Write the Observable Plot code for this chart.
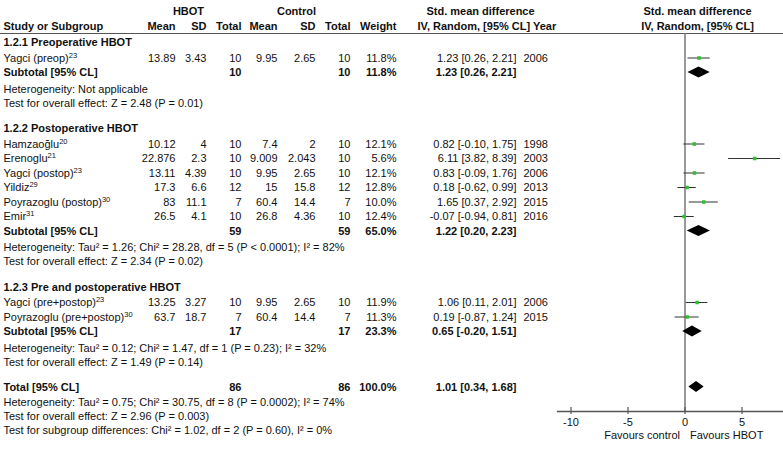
<!DOCTYPE html>
<html><head><meta charset="utf-8">
<script src="https://cdn.jsdelivr.net/npm/d3@7"></script>
<script src="https://cdn.jsdelivr.net/npm/@observablehq/plot@0.6"></script>
<style>
html,body{margin:0;padding:0;background:#fff;}
#chart{width:783px;height:459px;overflow:hidden;}
</style></head><body><div id="chart"></div>
<script>
// ---------- data ----------
const groupLabels = ["1.2.1 Preoperative HBOT", "1.2.2 Postoperative HBOT", "1.2.3 Pre and postoperative HBOT"];
const studyNames = ["Yagci (preop)^23", "Hamzaoğlu^20", "Erenoglu^21", "Yagci (postop)^23", "Yildiz^29", "Poyrazoglu (postop)^30", "Emir^31", "Yagci (pre+postop)^23", "Poyrazoglu (pre+postop)^30"];
const studyGroup = [0, 1, 1, 1, 1, 1, 1, 2, 2];
const hbotMean = [13.89, 10.12, 22.876, 13.11, 17.3, 83, 26.5, 13.25, 63.7];
const hbotSD = [3.43, 4, 2.3, 4.39, 6.6, 11.1, 4.1, 3.27, 18.7];
const hbotN = [10, 10, 10, 10, 12, 7, 10, 10, 7];
const ctrlMean = [9.95, 7.4, 9.009, 9.95, 15, 60.4, 26.8, 9.95, 60.4];
const ctrlSD = [2.65, 2, 2.043, 2.65, 15.8, 14.4, 4.36, 2.65, 14.4];
const ctrlN = [10, 10, 10, 10, 12, 7, 10, 10, 7];
const weight = [11.8, 12.1, 5.6, 12.1, 12.8, 10.0, 12.4, 11.9, 11.3];
const smd = [1.23, 0.82, 6.11, 0.83, 0.18, 1.65, -0.07, 1.06, 0.19];
const ciLo = [0.26, -0.10, 3.82, -0.09, -0.62, 0.37, -0.94, 0.11, -0.87];
const ciHi = [2.21, 1.75, 8.39, 1.76, 0.99, 2.92, 0.81, 2.01, 1.24];
const year = [2006, 1998, 2003, 2006, 2013, 2015, 2016, 2006, 2015];

const subHbotN = [10, 59, 17];
const subCtrlN = [10, 59, 17];
const subWeight = [11.8, 65.0, 23.3];
const subSmd = [1.23, 1.22, 0.65];
const subLo = [0.26, 0.20, -0.20];
const subHi = [2.21, 2.23, 1.51];
const subHet = [
  "Heterogeneity: Not applicable",
  "Heterogeneity: Tau² = 1.26; Chi² = 28.28, df = 5 (P < 0.0001); I² = 82%",
  "Heterogeneity: Tau² = 0.12; Chi² = 1.47, df = 1 (P = 0.23); I² = 32%"
];
const subTest = [
  "Test for overall effect: Z = 2.48 (P = 0.01)",
  "Test for overall effect: Z = 2.34 (P = 0.02)",
  "Test for overall effect: Z = 1.49 (P = 0.14)"
];
const totalHbotN = 86, totalCtrlN = 86, totalWeight = 100.0;
const totalSmd = 1.01, totalLo = 0.34, totalHi = 1.68;
const totalNotes = [
  "Heterogeneity: Tau² = 0.75; Chi² = 30.75, df = 8 (P = 0.0002); I² = 74%",
  "Test for overall effect: Z = 2.96 (P = 0.003)",
  "Test for subgroup differences: Chi² = 1.02, df = 2 (P = 0.60), I² = 0%"
];
const axisTicks = [-10, -5, 0, 5];
const favourLabels = ["Favours control", "Favours HBOT"];

// ---------- layout ----------
const FONT = "'Liberation Sans', Arial, Helvetica, sans-serif";
const COL = {name:[3,"start"], hMean:[175,"end"], hSD:[206,"end"], hN:[241,"end"], cMean:[277,"end"], cSD:[315,"end"], cN:[350,"end"], w:[396,"end"], eff:[516,"end"], year:[523,"start"]};
const cells = [];
function cell(y, col, text, bold) { cells.push({y, dx: COL[col][0], anchor: COL[col][1], text: String(text), bold: !!bold}); }
function cellAt(y, dx, anchor, text, bold) { cells.push({y, dx, anchor, text, bold: !!bold}); }
const f2 = v => v.toFixed(2);
const effText = (e, l, h) => `${f2(e)} [${f2(l)}, ${f2(h)}]`;

const Y_TOP1 = 11, Y_TOP2 = 26, Y_RULE = 33, Y_AXIS = 411;
cellAt(Y_TOP1, 188, "middle", "HBOT", true);
cellAt(Y_TOP1, 296, "middle", "Control", true);
cellAt(Y_TOP1, 480, "middle", "Std. mean difference", true);
cellAt(Y_TOP1, 697, "middle", "Std. mean difference", true);
cell(Y_TOP2, "name", "Study or Subgroup", true);
cell(Y_TOP2, "hMean", "Mean", true); cell(Y_TOP2, "hSD", "SD", true); cell(Y_TOP2, "hN", "Total", true);
cell(Y_TOP2, "cMean", "Mean", true); cell(Y_TOP2, "cSD", "SD", true); cell(Y_TOP2, "cN", "Total", true);
cell(Y_TOP2, "w", "Weight", true);
cellAt(Y_TOP2, 417, "start", "IV, Random, [95% CL] Year", true);
cellAt(Y_TOP2, 697, "middle", "IV, Random, [95% CL]", true);

const studyPts = [], diamonds = [];
function addDiamond(id, yc, e, l, h) {
  const hh = 5.5;
  diamonds.push({id, x: l, y1: yc, y2: yc}, {id, x: e, y1: yc - hh, y2: yc + hh}, {id, x: h, y1: yc, y2: yc});
}
let y = 42;
groupLabels.forEach((g, gi) => {
  cell(y, "name", g, true);
  y += 15.5;
  studyNames.forEach((n, i) => {
    if (studyGroup[i] !== gi) return;
    cell(y, "name", n); cell(y, "hMean", hbotMean[i]); cell(y, "hSD", hbotSD[i]); cell(y, "hN", hbotN[i]);
    cell(y, "cMean", ctrlMean[i]); cell(y, "cSD", ctrlSD[i]); cell(y, "cN", ctrlN[i]);
    cell(y, "w", weight[i].toFixed(1) + "%"); cell(y, "eff", effText(smd[i], ciLo[i], ciHi[i])); cell(y, "year", year[i]);
    studyPts.push({y, smd: smd[i], lo: ciLo[i], hi: ciHi[i]});
    y += 14.5;
  });
  cell(y, "name", "Subtotal [95% CL]", true); cell(y, "hN", subHbotN[gi], true); cell(y, "cN", subCtrlN[gi], true);
  cell(y, "w", subWeight[gi].toFixed(1) + "%", true); cell(y, "eff", effText(subSmd[gi], subLo[gi], subHi[gi]), true);
  addDiamond("g" + gi, y, subSmd[gi], subLo[gi], subHi[gi]);
  y += 16.5;
  cell(y, "name", subHet[gi]); y += 14;
  cell(y, "name", subTest[gi]); y += 25.5;
});
y -= 0.5;
cell(y, "name", "Total [95% CL]", true); cell(y, "hN", totalHbotN, true); cell(y, "cN", totalCtrlN, true);
cell(y, "w", totalWeight.toFixed(1) + "%", true); cell(y, "eff", effText(totalSmd, totalLo, totalHi), true);
addDiamond("total", y, totalSmd, totalLo, totalHi);
y += 15;
totalNotes.forEach(t => { cell(y, "name", t); y += 14; });

// group text cells into marks
const groups = d3.groups(cells, c => `${c.dx}|${c.anchor}|${c.bold}`);
const textMarks = groups.map(([k, arr]) => Plot.text(arr, {
  y: "y", text: "text", frameAnchor: "left", dx: arr[0].dx, textAnchor: arr[0].anchor,
  fontWeight: arr[0].bold ? "bold" : "normal", fill: "#111"
}));

const chart = Plot.plot({
  width: 783, height: 459, margin: 0,
  x: {domain: [-10, 10], range: [570.5, 798.5], axis: null},
  y: {domain: [0, 459], range: [0, 459], axis: null},
  style: {fontFamily: FONT, fontSize: "11px", background: "white", color: "#111", overflow: "hidden"},
  marks: [
    Plot.ruleY([Y_RULE], {stroke: "#555", strokeWidth: 1.2}),
    Plot.ruleX([0], {y1: Y_RULE, y2: Y_AXIS, stroke: "#777", strokeWidth: 1.5}),
    Plot.ruleY([Y_AXIS], {x1: -11.2, x2: 10.5, stroke: "#555", strokeWidth: 1.5}),
    Plot.ruleX(axisTicks, {x: d => d, y1: Y_AXIS - 4, y2: Y_AXIS + 3, stroke: "#555", strokeWidth: 1.2}),
    Plot.text(axisTicks, {x: d => d, y: Y_AXIS + 11, text: d => String(d), fill: "#111"}),
    Plot.text([favourLabels[0]], {x: 0, y: Y_AXIS + 24, text: d => d, textAnchor: "end", dx: -5, fill: "#111"}),
    Plot.text([favourLabels[1]], {x: 0, y: Y_AXIS + 24, text: d => d, textAnchor: "start", dx: 5, fill: "#111"}),
    Plot.ruleY(studyPts, {y: "y", x1: "lo", x2: "hi", stroke: "#333", strokeWidth: 1}),
    Plot.dot(studyPts, {x: "smd", y: "y", symbol: "square", r: 2, fill: "#2fbf2f", stroke: "none"}),
    Plot.areaY(diamonds, {x: "x", y1: "y1", y2: "y2", z: "id", fill: "black"}),
    ...textMarks
  ]
});

// superscript references (e.g. "Emir^31")
chart.querySelectorAll("text, tspan").forEach(el => {
  if (el.childNodes.length === 1 && el.firstChild.nodeType === 3 && el.textContent.includes("^")) {
    const [base, sup] = el.textContent.split("^");
    el.textContent = base;
    const ts = document.createElementNS("http://www.w3.org/2000/svg", "tspan");
    ts.setAttribute("font-size", "7.5px");
    ts.setAttribute("dy", "-4");
    ts.textContent = sup;
    el.appendChild(ts);
  }
});
document.getElementById("chart").appendChild(chart);
</script></body></html>
